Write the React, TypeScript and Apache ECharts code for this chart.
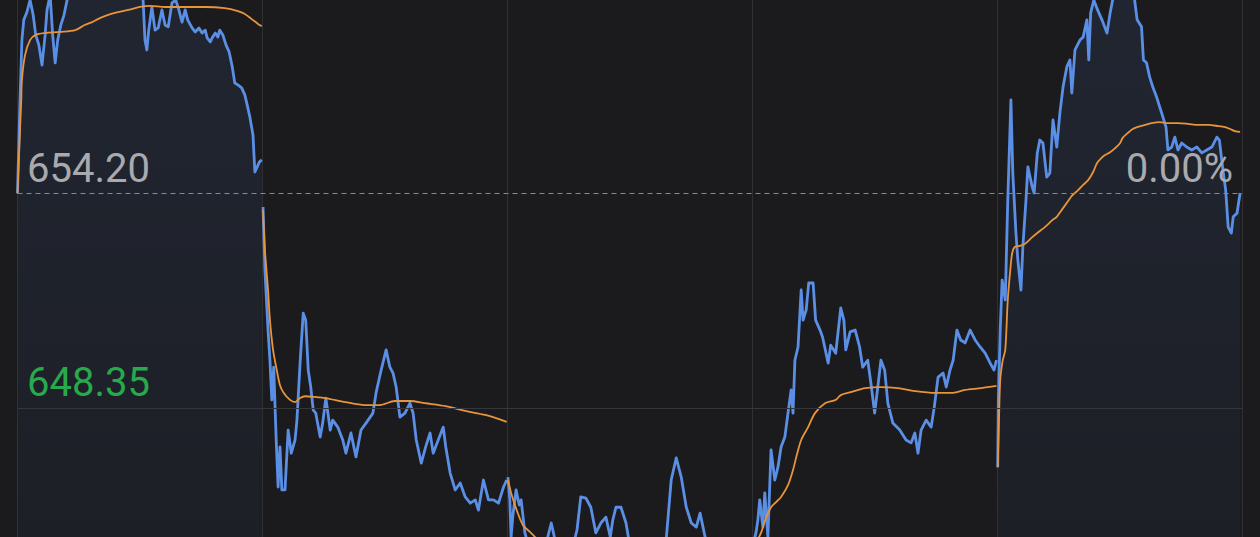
import React, { useEffect, useRef } from "react";
import * as echarts from "echarts";

// minutes per trading session
const DAY_MINUTES = 390;
const PREV_CLOSE = 654.2;
const LOWER_REF = 648.35;
const Y_MIN = 644.85;
const Y_MAX = 659.46;

const prevCloseLabel = "654.20";
const lowerRefLabel = "648.35";
const changeLabel = "0.00%";

// [minute of session, price]
const day1Price: [number, number][] = [
  [0, 654.2], [4, 656.74], [7, 658.37], [10, 658.92], [15, 659.13], [20, 659.46], [25, 659.05],
  [29, 658.51], [34, 658.24], [39, 657.69], [44, 658.51], [47, 659.19], [52, 659.6], [56, 658.51],
  [60, 657.75], [64, 658.37], [69, 658.78], [74, 659.05], [79, 659.46], [85, 659.73], [100, 660.14],
  [123, 660.55], [147, 660.28], [171, 660.68], [192, 660.0], [200, 659.46], [203, 658.37], [206, 658.1],
  [209, 658.64], [214, 659.27], [219, 658.64], [224, 658.7], [230, 659.19], [235, 658.78], [240, 658.73],
  [246, 659.38], [252, 659.46], [257, 659.19], [262, 658.86], [267, 659.19], [271, 658.92], [278, 658.7],
  [283, 658.59], [289, 658.7], [294, 658.56], [299, 658.64], [302, 658.43], [307, 658.32], [310, 658.43],
  [315, 658.56], [319, 658.45], [322, 658.64], [327, 658.51], [332, 658.24], [337, 658.05], [342, 657.64],
  [346, 657.2], [351, 657.15], [357, 657.07], [362, 656.88], [365, 656.66], [370, 656.28], [375, 655.79],
  [378, 654.78], [381, 654.89], [385, 655.05], [389, 655.11],
];
const day1Avg: [number, number][] = [
  [0, 654.2], [4, 655.92], [6, 656.74], [7, 657.28], [12, 657.96], [20, 658.37], [29, 658.51],
  [44, 658.56], [68, 658.59], [92, 658.64], [107, 658.78], [119, 658.86], [128, 658.94], [139, 659.02],
  [155, 659.11], [176, 659.19], [195, 659.27], [211, 659.3], [235, 659.27], [267, 659.27], [299, 659.27],
  [330, 659.24], [351, 659.16], [362, 659.08], [373, 658.94], [383, 658.81], [389, 658.75],
];

const day2Price: [number, number][] = [
  [1, 653.83], [4, 652.11], [9, 650.48], [12, 649.66], [15, 648.58], [18, 649.47], [22, 647.49],
  [25, 646.21], [28, 647.3], [31, 646.13], [36, 646.13], [41, 647.76], [46, 647.13], [52, 647.49],
  [55, 648.03], [60, 649.58], [65, 650.94], [69, 650.75], [73, 649.39], [77, 648.93], [81, 648.3],
  [85, 648.22], [92, 647.57], [96, 647.95], [101, 648.63], [108, 647.76], [112, 648.03], [120, 647.84],
  [128, 647.49], [133, 647.13], [141, 647.68], [149, 647.03], [157, 647.76], [165, 647.95], [176, 648.22],
  [181, 648.77], [188, 649.31], [197, 649.94], [203, 649.47], [208, 649.31], [213, 648.93], [219, 648.11],
  [227, 648.22], [235, 648.49], [240, 648.22], [245, 647.49], [253, 646.86], [260, 647.3], [267, 647.68],
  [272, 647.13], [280, 647.49], [288, 647.84], [292, 647.3], [299, 646.59], [307, 646.13], [315, 646.32],
  [323, 645.94], [331, 645.77], [339, 645.86], [344, 645.58], [352, 646.4], [360, 645.86], [368, 645.86],
  [376, 645.77], [384, 646.21], [389, 646.4],
];
const day2Avg: [number, number][] = [
  [1, 653.75], [4, 652.66], [9, 651.57], [12, 650.75], [17, 649.94], [22, 649.47], [28, 648.98],
  [34, 648.77], [44, 648.58], [52, 648.52], [60, 648.63], [68, 648.68], [84, 648.66], [100, 648.63],
  [132, 648.52], [163, 648.44], [187, 648.44], [211, 648.55], [235, 648.55], [259, 648.49], [292, 648.41],
  [323, 648.28], [355, 648.17], [389, 647.98],
];

const day3Price: [number, number][] = [
  [1, 646.48], [4, 645.86], [6, 644.85], [9, 645.45], [14, 646.13], [19, 645.72], [22, 645.86],
  [28, 644.96], [36, 644.49], [44, 644.22], [52, 644.36], [60, 644.55], [70, 645.23], [76, 644.77],
  [84, 644.22], [94, 644.09], [103, 644.49], [111, 645.04], [117, 645.94], [125, 645.91], [133, 645.66],
  [141, 644.96], [149, 645.23], [157, 645.39], [164, 644.85], [168, 645.31], [173, 645.66], [181, 645.66],
  [189, 645.23], [195, 644.63], [205, 644.22], [214, 644.09], [224, 644.36], [234, 644.22], [243, 644.49],
  [253, 644.77], [261, 646.4], [269, 647.0], [277, 646.48], [285, 645.66], [293, 645.23], [301, 645.12],
  [307, 645.5], [315, 644.85], [323, 644.36], [332, 644.09], [342, 643.95], [351, 644.22], [361, 644.09],
  [370, 644.36], [380, 644.63], [388, 644.55],
];
const day3Avg: [number, number][] = [
  [1, 646.4], [7, 645.99], [15, 645.58], [25, 645.17], [36, 644.99], [49, 644.77], [68, 644.49],
  [100, 644.28], [148, 644.17], [195, 644.14], [243, 644.17], [291, 644.22], [339, 644.2], [388, 644.22],
];

const day4Price: [number, number][] = [
  [1, 644.63], [6, 644.96], [9, 645.31], [12, 645.86], [17, 645.12], [20, 646.05], [25, 644.85],
  [30, 647.22], [36, 646.4], [41, 646.75], [46, 647.3], [52, 647.57], [57, 648.22], [62, 648.85],
  [65, 648.22], [68, 649.66], [73, 650.02], [78, 651.57], [81, 650.75], [86, 651.03], [90, 651.76],
  [97, 651.76], [101, 650.75], [108, 650.48], [112, 650.29], [121, 649.58], [125, 650.07], [133, 649.85],
  [141, 651.08], [146, 650.75], [149, 649.94], [156, 650.43], [164, 650.48], [171, 650.02], [176, 649.47],
  [184, 649.66], [189, 649.04], [195, 648.22], [200, 648.93], [205, 649.66], [211, 649.39], [216, 648.49],
  [224, 647.95], [235, 647.76], [245, 647.49], [253, 647.41], [259, 647.68], [264, 647.13], [269, 647.76],
  [277, 648.03], [285, 647.84], [290, 648.39], [296, 649.2], [304, 649.31], [309, 648.93], [315, 649.39],
  [320, 649.66], [326, 650.48], [332, 650.21], [339, 650.13], [347, 650.48], [355, 650.21], [363, 650.02],
  [371, 649.85], [379, 649.58], [385, 649.39], [389, 649.66],
];
const day4Avg: [number, number][] = [
  [1, 644.63], [8, 644.77], [14, 644.96], [22, 645.37], [30, 645.66], [38, 645.8], [46, 645.94],
  [57, 646.26], [65, 646.67], [71, 647.08], [78, 647.49], [89, 647.84], [100, 648.22], [116, 648.49],
  [133, 648.58], [141, 648.71], [157, 648.79], [180, 648.9], [205, 648.93], [232, 648.9], [259, 648.82],
  [291, 648.77], [317, 648.77], [339, 648.85], [365, 648.9], [389, 648.96],
];

const day5Price: [number, number][] = [
  [1, 646.75], [2, 648.58], [5, 650.48], [8, 651.84], [13, 651.3], [17, 654.02], [22, 656.74],
  [25, 654.75], [30, 653.12], [33, 652.39], [38, 651.57], [41, 652.74], [46, 654.02], [49, 654.92],
  [56, 654.37], [59, 654.21], [64, 655.3], [68, 655.65], [73, 655.57], [79, 654.64], [84, 654.75],
  [89, 656.2], [95, 655.46], [100, 656.39], [105, 657.09], [111, 657.64], [116, 657.83], [119, 656.93],
  [124, 658.1], [132, 658.37], [137, 658.45], [143, 658.92], [146, 657.83], [149, 659.11], [154, 659.46],
  [160, 659.19], [167, 658.92], [175, 658.56], [180, 659.11], [184, 659.46], [192, 659.87], [202, 660.14],
  [211, 659.87], [219, 659.46], [223, 658.92], [230, 658.73], [233, 657.83], [238, 657.75], [243, 657.36],
  [248, 657.09], [254, 656.82], [259, 656.55], [264, 656.28], [269, 656.0], [272, 655.38], [278, 655.46],
  [283, 655.73], [288, 655.38], [294, 655.57], [302, 655.46], [310, 655.38], [318, 655.46], [326, 655.3],
  [334, 655.38], [342, 655.46], [350, 655.73], [354, 655.65], [359, 654.92], [364, 654.29], [368, 653.28],
  [373, 653.12], [376, 653.56], [382, 653.66], [387, 654.21],
];
const day5Avg: [number, number][] = [
  [1, 646.75], [3, 648.03], [5, 649.12], [9, 649.66], [13, 649.94], [17, 651.3], [21, 652.11],
  [24, 652.57], [28, 652.74], [36, 652.77], [44, 652.82], [56, 653.01], [66, 653.15], [76, 653.28],
  [88, 653.47], [95, 653.56], [103, 653.75], [111, 653.94], [119, 654.13], [129, 654.29], [137, 654.43],
  [145, 654.56], [153, 654.78], [159, 655.02], [166, 655.16], [172, 655.24], [180, 655.32], [188, 655.43],
  [196, 655.57], [200, 655.71], [208, 655.84], [216, 655.95], [223, 656.0], [235, 656.06], [246, 656.11],
  [259, 656.14], [272, 656.11], [288, 656.11], [304, 656.09], [320, 656.06], [336, 656.06], [352, 656.03],
  [363, 656.0], [371, 655.95], [379, 655.89], [387, 655.87],
];

const sessions = [
  { price: day1Price, avg: day1Avg, filled: true },
  { price: day2Price, avg: day2Avg, filled: false },
  { price: day3Price, avg: day3Avg, filled: false },
  { price: day4Price, avg: day4Avg, filled: false },
  { price: day5Price, avg: day5Avg, filled: true },
];

const BLUE = "#5b8fe6";
const ORANGE = "#e8943a";
const BG = "#1b1b1e";

export default function App() {
  const ref = useRef<HTMLDivElement>(null);

  useEffect(() => {
    if (!ref.current) return;
    const chart = echarts.init(ref.current, undefined, { renderer: "svg" });

    const series: any[] = [];
    sessions.forEach((s, i) => {
      const offset = i * DAY_MINUTES;
      series.push({
        type: "line",
        data: s.price.map(([t, p]) => [t + offset, p]),
        showSymbol: false,
        symbol: "none",
        lineStyle: { color: BLUE, width: 2.8, join: "round" },
        areaStyle: s.filled
          ? {
              origin: "start",
              color: new echarts.graphic.LinearGradient(0, 0, 0, 1, [
                { offset: 0, color: "rgba(80,130,220,0.15)" },
                { offset: 1, color: "rgba(80,130,220,0.06)" },
              ]),
            }
          : undefined,
        z: 3,
        silent: true,
        markLine:
          i === 0
            ? {
                silent: true,
                symbol: "none",
                label: { show: false },
                data: [
                  { yAxis: PREV_CLOSE, lineStyle: { color: "#878a90", type: [5, 4], width: 1 } },
                  { yAxis: LOWER_REF, lineStyle: { color: "#34363b", type: "solid", width: 1 } },
                ],
              }
            : undefined,
      });
      series.push({
        type: "line",
        data: s.avg.map(([t, p]) => [t + offset, p]),
        showSymbol: false,
        symbol: "none",
        smooth: 0.3,
        lineStyle: { color: ORANGE, width: 1.8 },
        z: 4,
        silent: true,
      });
    });

    chart.setOption({
      animation: false,
      backgroundColor: BG,
      grid: { left: 17.5, right: 18, top: 0, bottom: 0 },
      xAxis: {
        type: "value",
        min: 0,
        max: DAY_MINUTES * 5,
        interval: DAY_MINUTES,
        axisLine: { show: false },
        axisTick: { show: false },
        axisLabel: { show: false },
        splitLine: { show: true, lineStyle: { color: "#2f3034", width: 1 } },
      },
      yAxis: {
        type: "value",
        min: Y_MIN,
        max: Y_MAX,
        axisLine: { show: false },
        axisTick: { show: false },
        axisLabel: { show: false },
        splitLine: { show: false },
      },
      series,
      graphic: [
        {
          type: "text",
          left: 27,
          top: 148,
          z: 10,
          style: {
            text: prevCloseLabel,
            fill: "#a9aaae",
            font: '40px Roboto, "Noto Sans", sans-serif',
          },
        },
        {
          type: "text",
          left: 27,
          top: 362,
          z: 10,
          style: {
            text: lowerRefLabel,
            fill: "#27a94c",
            font: '40px Roboto, "Noto Sans", sans-serif',
          },
        },
        {
          type: "text",
          right: 27,
          top: 148,
          z: 10,
          style: {
            text: changeLabel,
            fill: "#a9aaae",
            font: '40px Roboto, "Noto Sans", sans-serif',
          },
        },
      ],
    });

    return () => chart.dispose();
  }, []);

  return (
    <div
      ref={ref}
      style={{ position: "fixed", left: 0, top: 0, width: 1260, height: 537, background: BG }}
    />
  );
}
